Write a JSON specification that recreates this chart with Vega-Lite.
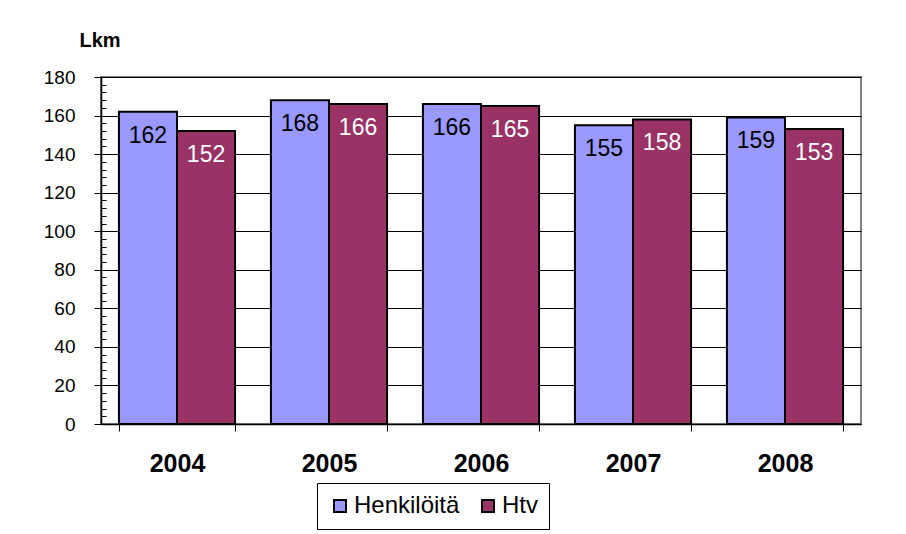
{
  "$schema": "https://vega.github.io/schema/vega-lite/v6.json",
  "width": 760,
  "height": 347,
  "autosize": {"type": "none"},
  "padding": {"left": 101, "top": 77, "right": 45, "bottom": 110},
  "background": "white",
  "config": {
    "font": "Liberation Sans",
    "view": {"stroke": "#808080", "strokeWidth": 2},
    "axis": {"domainColor": "black", "tickColor": "black", "labelColor": "black", "titleColor": "black"}
  },
  "data": {"values": [
    {"year": "2004", "series": "Henkilöitä", "value": 162},
    {"year": "2004", "series": "Htv", "value": 152},
    {"year": "2005", "series": "Henkilöitä", "value": 168},
    {"year": "2005", "series": "Htv", "value": 166},
    {"year": "2006", "series": "Henkilöitä", "value": 166},
    {"year": "2006", "series": "Htv", "value": 165},
    {"year": "2007", "series": "Henkilöitä", "value": 155},
    {"year": "2007", "series": "Htv", "value": 158},
    {"year": "2008", "series": "Henkilöitä", "value": 159},
    {"year": "2008", "series": "Htv", "value": 153}
  ]},
  "encoding": {
    "x": {
      "field": "year", "type": "nominal",
      "scale": {"paddingInner": 0.236, "paddingOuter": 0.118},
      "axis": {
        "title": null, "labelAngle": 0, "labelFontSize": 25, "labelFontWeight": "bold",
        "labelPadding": 20, "tickBand": "extent", "tickSize": 7, "tickWidth": 1,
        "domainWidth": 1.5
      }
    },
    "xOffset": {"field": "series", "type": "nominal", "scale": {"paddingInner": 0, "paddingOuter": 0}},
    "y": {
      "field": "value", "type": "quantitative",
      "scale": {"domain": [0, 180], "nice": false}
    }
  },
  "layer": [
    {
      "mark": {"type": "bar", "stroke": "black", "strokeWidth": 2},
      "encoding": {
        "color": {
          "field": "series", "type": "nominal",
          "scale": {"domain": ["Henkilöitä", "Htv"], "range": ["#9999FF", "#993366"]},
          "legend": {
            "title": null, "orient": "none", "direction": "horizontal",
            "legendX": 216, "legendY": 406,
            "symbolType": "square", "symbolSize": 144, "symbolStrokeColor": "black", "symbolStrokeWidth": 2,
            "labelFontSize": 24, "labelColor": "black", "columnPadding": 16,
            "strokeColor": "black", "padding": 11, "symbolOffset": 0, "labelOffset": 2
          }
        },
        "y": {
          "field": "value", "type": "quantitative",
          "axis": {
            "title": "Lkm", "titleAngle": 0, "titleFontSize": 20, "titleFontWeight": "bold",
            "titleAlign": "left", "titleBaseline": "alphabetic", "titleX": -22, "titleY": -31,
            "values": [0, 20, 40, 60, 80, 100, 120, 140, 160, 180],
            "labelFontSize": 19, "labelPadding": 19, "tickSize": 7,
            "grid": true, "gridColor": "black", "gridWidth": 1, "gridOpacity": 1,
            "domainWidth": 1.5
          }
        }
      }
    },
    {
      "mark": {"type": "tick", "opacity": 0},
      "encoding": {
        "y": {
          "field": "value", "type": "quantitative",
          "axis": {
            "title": null, "orient": "left", "labels": false, "grid": false, "domain": false,
            "values": [4, 8, 12, 16, 24, 28, 32, 36, 44, 48, 52, 56, 64, 68, 72, 76, 84, 88, 92, 96, 104, 108, 112, 116, 124, 128, 132, 136, 144, 148, 152, 156, 164, 168, 172, 176],
            "tickSize": -5, "tickColor": "black"
          }
        }
      }
    },
    {
      "mark": {"type": "text", "baseline": "top", "dy": 13, "fontSize": 23},
      "encoding": {
        "y": {"field": "value", "type": "quantitative", "axis": null},
        "text": {"field": "value", "type": "quantitative"},
        "color": {"condition": {"test": "datum.series === 'Htv'", "value": "white"}, "value": "black"}
      }
    }
  ],
  "resolve": {"axis": {"y": "independent"}}
}
